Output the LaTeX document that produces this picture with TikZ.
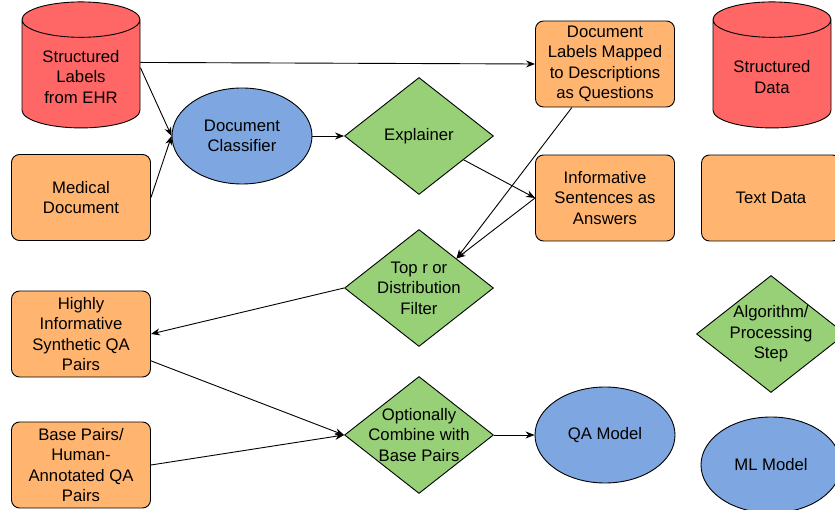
\documentclass[tikz,border=0pt]{standalone}
\usepackage{fontspec}
\setmainfont{Liberation Sans}
\usepackage{tikz}
\usetikzlibrary{arrows.meta, positioning, shapes.geometric}

\definecolor{storered}{HTML}{FF6666}
\definecolor{procorange}{HTML}{FFB570}
\definecolor{modelblue}{HTML}{7EA6E0}
\definecolor{algogreen}{HTML}{97D077}

\tikzset{
    txt/.style={font=\fontsize{16.7pt}{20.5pt}\selectfont, align=center},
    store/.style={cylinder, shape border rotate=90, aspect=0.3, draw, fill=storered,
        text width=118pt, minimum width=118pt, minimum height=126pt, inner sep=0pt},
    proc/.style={rectangle, rounded corners=8pt, draw, fill=procorange,
        minimum width=139pt, minimum height=86pt, inner sep=0pt, txt},
    model/.style={ellipse, draw, fill=modelblue, minimum width=140pt, minimum height=96pt, inner sep=0pt, txt},
    algo/.style={diamond, draw, fill=algogreen, minimum width=149pt, minimum height=117pt, inner sep=0pt}
}

\begin{document}
\begin{tikzpicture}[x=1pt, y=-1pt, node distance=134pt, on grid, line width=0.9pt, >={Stealth[length=9pt, width=7pt]}]
            \useasboundingbox (0,0) rectangle (835,510);
            \clip (0,0) rectangle (835,510);

            \node[store, label={[txt, yshift=-3pt]center:Structured\\Labels\\from EHR}] (slab) at (81,74) {};
            \node[proc, below=123.5pt of slab] (med) {Medical\\Document};
            \node[model, below right=62pt and 161pt of slab] (dclass) {Document\\Classifier};
            \node[algo, right=177pt of dclass, label={[txt]center:Explainer}] (expl) {};

            \node[proc, above right=72pt and 186pt of expl] (dlab) {Document\\Labels Mapped\\to Descriptions\\as Questions};
            \node[proc, below=134pt of dlab] (isent) {Informative\\Sentences as\\Answers};

            \node[algo, below=152pt of expl, label={[txt]center:Top r or\\Distribution\\Filter}] (topr) {};
            \node[proc, below=260pt of slab] (hiqa) {Highly\\Informative\\Synthetic QA\\Pairs};
            \node[proc, below=131pt of hiqa] (base) {Base Pairs/\\Human-\\Annotated QA\\Pairs};
            \node[algo, below=147pt of topr, label={[txt]center:Optionally\\Combine with\\Base Pairs}] (comb) {};
            \node[model, right=186pt of comb] (qam) {QA Model};

            % legend
            \node[store, below right=10pt and 167pt of dlab, label={[txt, yshift=-3pt]center:Structured\\Data}] (sdata) {};
            \node[proc, right=166pt of isent] (tdata) {Text Data};
            \node[algo, below=136pt of tdata, label={[txt]center:Algorithm/\\Processing\\Step}] (alg) {};
            \node[model, below=131pt of alg] (mlm) {ML Model};

            \draw[->] (slab.11) -- (dlab.west);
            \draw[->] (slab.6) -- (dclass.west);
            \draw[->] (med.east) -- (dclass.west);
            \draw[->] (dclass) -- (expl);
            \draw[->] (expl) -- (isent.west);
            \draw[->] (dlab) -- (topr.north east);
            \draw[->] (isent.west) -- (topr.north east);
            \draw[->] (topr.west) -- (hiqa.east);
            \draw[->] (hiqa) -- (comb.west);
            \draw[->] (base.east) -- (comb.west);
            \draw[->] (comb) -- (qam);
        \end{tikzpicture}
\end{document}
